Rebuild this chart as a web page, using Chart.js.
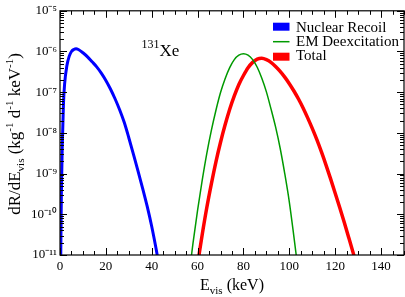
<!DOCTYPE html>
<html>
<head>
<meta charset="utf-8">
<script src="https://cdn.jsdelivr.net/npm/chart.js@4.4.1/dist/chart.umd.min.js"></script>
<style>
html,body{margin:0;padding:0;background:#fff;}
#wrap{width:405px;height:297px;position:relative;}
</style>
</head>
<body>
<div id="wrap"><canvas id="c"></canvas></div>
<script>
// ---- data (E in keV, rate in kg^-1 d^-1 keV^-1) ----
const nrEnergy = [0.3, 0.6, 1.0, 1.5, 2, 3, 4, 5, 6, 7, 8, 10, 12, 14, 16, 18, 20, 22, 24, 26, 28, 30, 32, 34, 36, 38, 40, 42, 43];
const nrRate = [6.3e-12, 3.16e-10, 5.0e-9, 5.0e-8, 1.58e-7, 4.47e-7, 7.59e-7, 1.0e-6, 1.12e-6, 1.17e-6, 1.12e-6, 9.3e-7, 7.4e-7, 5.6e-7, 4.2e-7, 2.95e-7, 1.95e-7, 1.2e-7, 6.9e-8, 3.7e-8, 1.82e-8, 7.6e-9, 3.0e-9, 1.17e-9, 4.4e-10, 1.58e-10, 5.0e-11, 1.32e-11, 6.3e-12];

const emEnergy = [56, 58, 60, 62, 64, 66, 68, 70, 72, 74, 76, 78, 80, 82, 84, 86, 88, 90, 92, 94, 96, 98, 100, 102, 104];
const emRate = [2.5e-12, 1.95e-11, 1.26e-10, 6.8e-10, 3.1e-9, 1.15e-8, 3.6e-8, 9.8e-8, 2.14e-7, 4.0e-7, 6.3e-7, 8.1e-7, 8.8e-7, 8.1e-7, 6.3e-7, 4.1e-7, 2.2e-7, 1.02e-7, 3.9e-8, 1.4e-8, 4.2e-9, 1.0e-9, 2.0e-10, 2.8e-11, 3.5e-12];

const totEnergy = [58, 60, 62, 64, 66, 68, 70, 72, 74, 76, 78, 80, 82, 84, 86, 88, 90, 92, 94, 96, 98, 100, 102, 104, 106, 108, 110, 112, 114, 116, 118, 120, 122, 124, 126, 128, 130];
const totRate = [1.26e-12, 6.0e-12, 3.16e-11, 1.45e-10, 5.6e-10, 1.95e-9, 5.9e-9, 1.58e-8, 3.8e-8, 8.1e-8, 1.55e-7, 2.57e-7, 3.98e-7, 5.4e-7, 6.5e-7, 6.8e-7, 6.3e-7, 5.4e-7, 4.27e-7, 3.24e-7, 2.34e-7, 1.62e-7, 1.07e-7, 6.8e-8, 4.1e-8, 2.34e-8, 1.29e-8, 6.8e-9, 3.4e-9, 1.62e-9, 7.4e-10, 3.3e-10, 1.45e-10, 6.2e-11, 2.57e-11, 1.05e-11, 4.2e-12];

const seriesNames = ["Nuclear Recoil", "EM Deexcitation", "Total"];
const seriesColors = ["#0000ff", "#009a00", "#ff0000"];
const xTickValues = [0, 20, 40, 60, 80, 100, 120, 140];
const yDecades = [-11, -10, -9, -8, -7, -6, -5];
const xMin = 0, xMax = 150;

const SERIF = "'Liberation Serif', 'Times New Roman', serif";
const supMap = {'-':'\u207B','0':'\u2070','1':'\u00B9','2':'\u00B2','3':'\u00B3','4':'\u2074','5':'\u2075','6':'\u2076','7':'\u2077','8':'\u2078','9':'\u2079'};
function supText(s){ return String(s).split('').map(c => supMap[c] || c).join(''); }

function toPts(xs, ys){ return xs.map((v,i)=>({x:v, y:ys[i]})); }

function drawRich(ctx, segs, x, y, align){
  let w = 0;
  segs.forEach(s => { ctx.font = s.size + 'px ' + SERIF; s.w = ctx.measureText(s.t).width; w += s.w; });
  let cx = align === 'center' ? x - w/2 : x;
  segs.forEach(s => {
    ctx.font = s.size + 'px ' + SERIF;
    ctx.fillText(s.t, cx, y + (s.dy || 0));
    cx += s.w;
  });
}

const framePlugin = {
  id: 'frame',
  afterDraw(chart){
    const {ctx, chartArea: a, scales: {x, y}} = chart;
    ctx.save();
    ctx.strokeStyle = '#000';
    ctx.lineWidth = 1.2;
    ctx.strokeRect(a.left, a.top, a.right - a.left, a.bottom - a.top);
    ctx.lineWidth = 1;
    ctx.beginPath();
    for (let v = xMin; v <= xMax; v += 5){
      const px = Math.round(x.getPixelForValue(v)) + 0.5;
      const len = (v % 20 === 0) ? 7 : 4;
      ctx.moveTo(px, a.bottom); ctx.lineTo(px, a.bottom - len);
      ctx.moveTo(px, a.top); ctx.lineTo(px, a.top + len);
    }
    yDecades.forEach(n => {
      const base = Math.pow(10, n);
      const py = Math.round(y.getPixelForValue(base)) + 0.5;
      ctx.moveTo(a.left, py); ctx.lineTo(a.left + 7, py);
      ctx.moveTo(a.right, py); ctx.lineTo(a.right - 7, py);
      if (n < -5){
        for (let m = 2; m <= 9; m++){
          const pm = Math.round(y.getPixelForValue(m * base)) + 0.5;
          ctx.moveTo(a.left, pm); ctx.lineTo(a.left + 4, pm);
          ctx.moveTo(a.right, pm); ctx.lineTo(a.right - 4, pm);
        }
      }
    });
    ctx.stroke();

    ctx.fillStyle = '#000';
    ctx.textBaseline = 'alphabetic';
    drawRich(ctx, [{t:'E', size:16}, {t:'vis', size:11, dy:4}, {t:' (keV)', size:16}], 232, 290, 'center');
    ctx.save();
    ctx.translate(20, 134);
    ctx.rotate(-Math.PI/2);
    drawRich(ctx, [
      {t:'dR/dE', size:17}, {t:'vis', size:11, dy:4}, {t:' (kg', size:17}, {t:'-1', size:11, dy:-7},
      {t:' d', size:17}, {t:'-1', size:11, dy:-7}, {t:' keV', size:17}, {t:'-1', size:11, dy:-7}, {t:')', size:17}
    ], 0, 0, 'center');
    ctx.restore();
    drawRich(ctx, [{t:'131', size:12, dy:-8}, {t:'Xe', size:17}], 141.5, 56, 'left');

    const lx = 273, lw = 16.5, tx = 296;
    const rows = [31.5, 45.5, 60];
    ctx.font = '15px ' + SERIF;
    ctx.fillStyle = seriesColors[0];
    ctx.fillRect(lx, 22.7, lw, 8);
    ctx.strokeStyle = seriesColors[1];
    ctx.lineWidth = 1.5;
    ctx.beginPath(); ctx.moveTo(lx, 41.7); ctx.lineTo(lx + lw, 41.7); ctx.stroke();
    ctx.fillStyle = seriesColors[2];
    ctx.fillRect(lx, 52.7, lw, 8);
    ctx.fillStyle = '#000';
    seriesNames.forEach((s, i) => ctx.fillText(s, tx, rows[i]));
    ctx.restore();
  }
};

new Chart(document.getElementById('c'), {
  type: 'line',
  data: {
    datasets: [
      {label: seriesNames[0], data: toPts(nrEnergy, nrRate), borderColor: seriesColors[0], borderWidth: 3, pointRadius: 0, cubicInterpolationMode: 'monotone', fill: false},
      {label: seriesNames[1], data: toPts(emEnergy, emRate), borderColor: seriesColors[1], borderWidth: 1.5, pointRadius: 0, cubicInterpolationMode: 'monotone', fill: false},
      {label: seriesNames[2], data: toPts(totEnergy, totRate), borderColor: seriesColors[2], borderWidth: 3.5, pointRadius: 0, cubicInterpolationMode: 'monotone', fill: false}
    ]
  },
  options: {
    responsive: true,
    maintainAspectRatio: false,
    animation: false,
    events: [],
    layout: {padding: {top: 9, right: 1, left: 0, bottom: 0}},
    plugins: {legend: {display: false}, tooltip: {enabled: false}},
    scales: {
      x: {
        type: 'linear', min: xMin, max: xMax,
        grid: {display: false, drawTicks: false},
        border: {display: false},
        afterBuildTicks: s => { s.ticks = xTickValues.map(v => ({value: v})); },
        afterFit: s => { s.height = 42; },
        ticks: {padding: 4, color: '#000', maxRotation: 0, autoSkip: false, font: {family: SERIF, size: 13}, callback: v => String(v)}
      },
      y: {
        type: 'logarithmic', min: 1e-11, max: 1e-5,
        grid: {display: false, drawTicks: false},
        border: {display: false},
        afterBuildTicks: s => { s.ticks = yDecades.map(n => ({value: Math.pow(10, n)})); },
        afterFit: s => { s.width = 60; },
        ticks: {padding: 3, color: '#000', autoSkip: false, font: {family: SERIF, size: 13},
          callback: v => '10' + supText(Math.round(Math.log10(v)))}
      }
    }
  },
  plugins: [framePlugin]
});
</script>
</body>
</html>
